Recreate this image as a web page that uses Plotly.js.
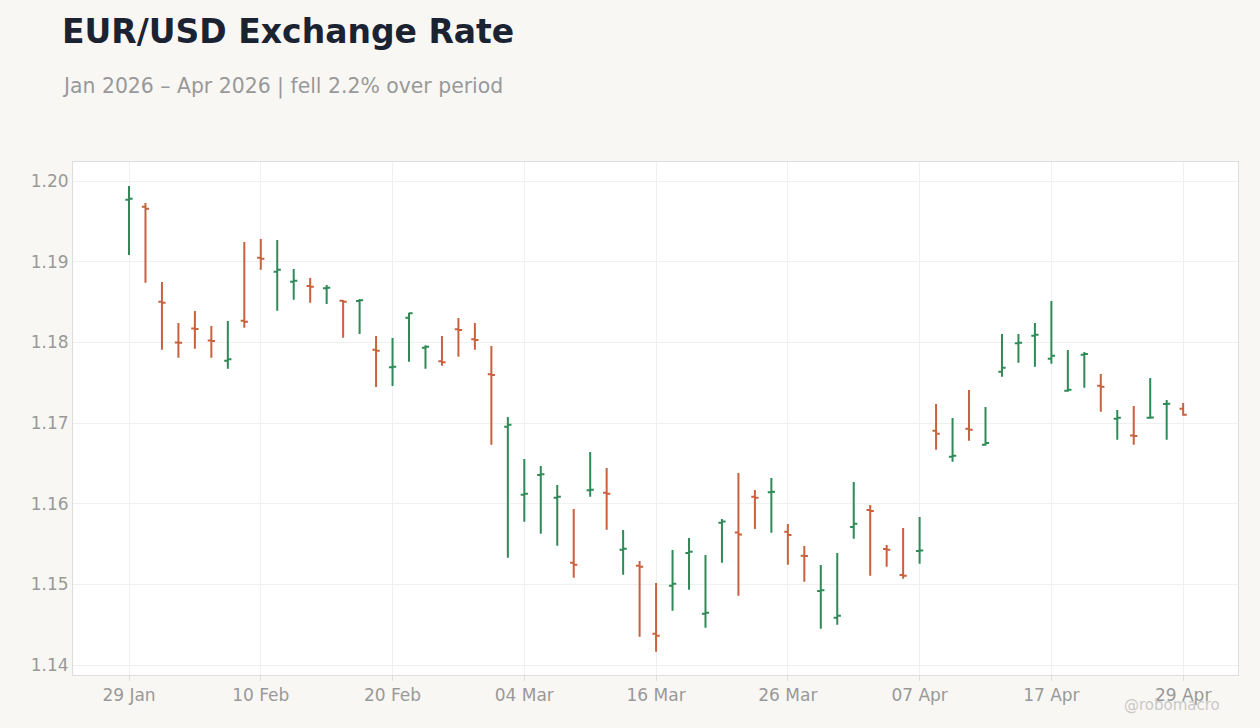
<!DOCTYPE html>
<html>
<head>
<meta charset="utf-8">
<script src="https://cdn.plot.ly/plotly-3.0.1.min.js"></script>
<style>html,body{margin:0;padding:0;background:#f8f7f4;}#chart{width:1260px;height:728px;}</style>
</head>
<body>
<div id="chart"></div>
<script>
const dates = [
"2026-01-29","2026-01-30",
"2026-02-02","2026-02-03","2026-02-04","2026-02-05","2026-02-06",
"2026-02-09","2026-02-10","2026-02-11","2026-02-12","2026-02-13",
"2026-02-16","2026-02-17","2026-02-18","2026-02-19","2026-02-20",
"2026-02-23","2026-02-24","2026-02-25","2026-02-26","2026-02-27",
"2026-03-02","2026-03-03","2026-03-04","2026-03-05","2026-03-06",
"2026-03-09","2026-03-10","2026-03-11","2026-03-12","2026-03-13",
"2026-03-16","2026-03-17","2026-03-18","2026-03-19","2026-03-20",
"2026-03-23","2026-03-24","2026-03-25","2026-03-26","2026-03-27",
"2026-03-30","2026-03-31","2026-04-01","2026-04-02","2026-04-03",
"2026-04-06","2026-04-07","2026-04-08","2026-04-09","2026-04-10",
"2026-04-13","2026-04-14","2026-04-15","2026-04-16","2026-04-17",
"2026-04-20","2026-04-21","2026-04-22","2026-04-23","2026-04-24",
"2026-04-27","2026-04-28","2026-04-29"
];
const openV = [
1.19768,1.19681,1.18504,1.17999,1.18172,1.18023,1.17772,1.18268,1.19049,1.18876,
1.18752,1.18698,1.18670,1.18516,1.18512,1.17909,1.17690,1.18305,1.17933,1.17765,
1.18162,1.18038,1.17604,1.16954,1.16111,1.16355,1.16074,1.15268,1.16166,1.16136,
1.15429,1.15231,1.14388,1.14983,1.15388,1.14636,1.15764,1.15642,1.16086,1.16141,
1.15652,1.15355,1.14917,1.14586,1.15711,1.15921,1.15438,1.15116,1.15413,1.16904,
1.16582,1.16929,1.16731,1.17636,1.17988,1.18082,1.17797,1.17400,1.17847,1.17462,
1.17053,1.16846,1.17064,1.17235,1.17177
];
const highV = [
1.19938,1.19727,1.18748,1.18240,1.18388,1.18202,1.18264,1.19244,1.19281,1.19269,
1.18909,1.18798,1.18711,1.18525,1.18537,1.18078,1.18054,1.18367,1.17963,1.18078,
1.18302,1.18240,1.17955,1.17074,1.16554,1.16467,1.16231,1.15934,1.16640,1.16442,
1.15673,1.15289,1.15016,1.15425,1.15574,1.15363,1.15810,1.16380,1.16169,1.16318,
1.15748,1.15475,1.15240,1.15388,1.16268,1.15983,1.15487,1.15698,1.15835,1.17235,
1.17062,1.17409,1.17198,1.18103,1.18103,1.18240,1.18512,1.17905,1.17880,1.17607,
1.17161,1.17211,1.17558,1.17285,1.17248
];
const lowV = [
1.19083,1.18739,1.17909,1.17809,1.17921,1.17809,1.17673,1.18181,1.18900,1.18392,
1.18528,1.18491,1.18475,1.18057,1.18103,1.17446,1.17459,1.17760,1.17673,1.17710,
1.17822,1.17909,1.16731,1.15330,1.15776,1.15628,1.15479,1.15082,1.16086,1.15677,
1.15119,1.14351,1.14165,1.14673,1.14933,1.14462,1.15268,1.14859,1.15686,1.15640,
1.15243,1.15033,1.14450,1.14499,1.15566,1.15107,1.15218,1.15070,1.15256,1.16669,
1.16520,1.16781,1.16719,1.17574,1.17747,1.17698,1.17735,1.17388,1.17438,1.17140,
1.16793,1.16731,1.17053,1.16793,1.17090
];
const closeV = [
1.19781,1.19657,1.18491,1.17995,1.18167,1.18018,1.17790,1.18256,1.19037,1.18900,
1.18764,1.18690,1.18677,1.18504,1.18521,1.17896,1.17698,1.18360,1.17946,1.17752,
1.18153,1.18029,1.17595,1.16979,1.16123,1.16364,1.16086,1.15243,1.16173,1.16123,
1.15442,1.15218,1.14363,1.15008,1.15404,1.14648,1.15779,1.15618,1.16074,1.16148,
1.15611,1.15351,1.14926,1.14611,1.15751,1.15909,1.15429,1.15107,1.15419,1.16867,
1.16595,1.16917,1.16752,1.17685,1.17995,1.18095,1.17834,1.17413,1.17855,1.17450,
1.17066,1.16840,1.17068,1.17239,1.17103
];
const tickDates = ["2026-01-29","2026-02-10","2026-02-20","2026-03-04","2026-03-16","2026-03-26","2026-04-07","2026-04-17","2026-04-29"];
const tickLabels = ["29 Jan","10 Feb","20 Feb","04 Mar","16 Mar","26 Mar","07 Apr","17 Apr","29 Apr"];
const yTicks = [1.14,1.15,1.16,1.17,1.18,1.19,1.20];

const trace = {
  type: 'ohlc',
  x: dates, open: openV, high: highV, low: lowV, close: closeV,
  increasing: {line: {color: '#2e8b57', width: 2}},
  decreasing: {line: {color: '#c8613e', width: 2}},
  tickwidth: 0.22,
  hoverinfo: 'none',
  showlegend: false
};
const layout = {
  width: 1260, height: 728,
  paper_bgcolor: '#f8f7f4', plot_bgcolor: '#ffffff',
  margin: {l: 73, r: 22, t: 162, b: 53},
  font: {family: 'DejaVu Sans, sans-serif', color: '#999999'},
  title: {
    text: '<b>EUR/USD Exchange Rate</b>',
    font: {family: 'DejaVu Sans, sans-serif', size: 33, color: '#1b2333'},
    xref: 'container', yref: 'container', x: 62/1260, xanchor: 'left',
    y: 1 - 31/728, yanchor: 'middle'
  },
  annotations: [
    {text: 'Jan 2026 – Apr 2026 | fell 2.2% over period', xref: 'paper', yref: 'paper',
     x: -13/1165, xanchor: 'left', y: 1 + (162-86)/513, yanchor: 'middle', showarrow: false,
     font: {size: 20.4, color: '#999999'}},
    {text: '@robomacro', xref: 'paper', yref: 'paper', x: 1 - 16/1165, xanchor: 'right',
     y: -(705-675)/513, yanchor: 'middle', showarrow: false,
     font: {size: 15, color: '#c9c9c9'}}
  ],
  xaxis: {
    type: 'category', range: [-3.4, 67.33],
    tickvals: tickDates, ticktext: tickLabels,
    rangeslider: {visible: false},
    showgrid: true, gridcolor: '#f0f0f0', gridwidth: 1,
    showline: true, linecolor: '#dddddd', linewidth: 1, mirror: true,
    ticks: 'outside', ticklen: 5, tickcolor: '#dddddd',
    tickfont: {size: 17, color: '#999999'}, zeroline: false
  },
  yaxis: {
    range: [1.13876, 1.20236],
    tickvals: yTicks, ticktext: yTicks.map(v => v.toFixed(2)),
    showgrid: true, gridcolor: '#f0f0f0', gridwidth: 1,
    showline: true, linecolor: '#dddddd', linewidth: 1, mirror: true,
    ticks: '', tickfont: {size: 17, color: '#999999'}, zeroline: false
  }
};
Plotly.newPlot('chart', [trace], layout, {displayModeBar: false, staticPlot: true});
</script>
</body>
</html>
